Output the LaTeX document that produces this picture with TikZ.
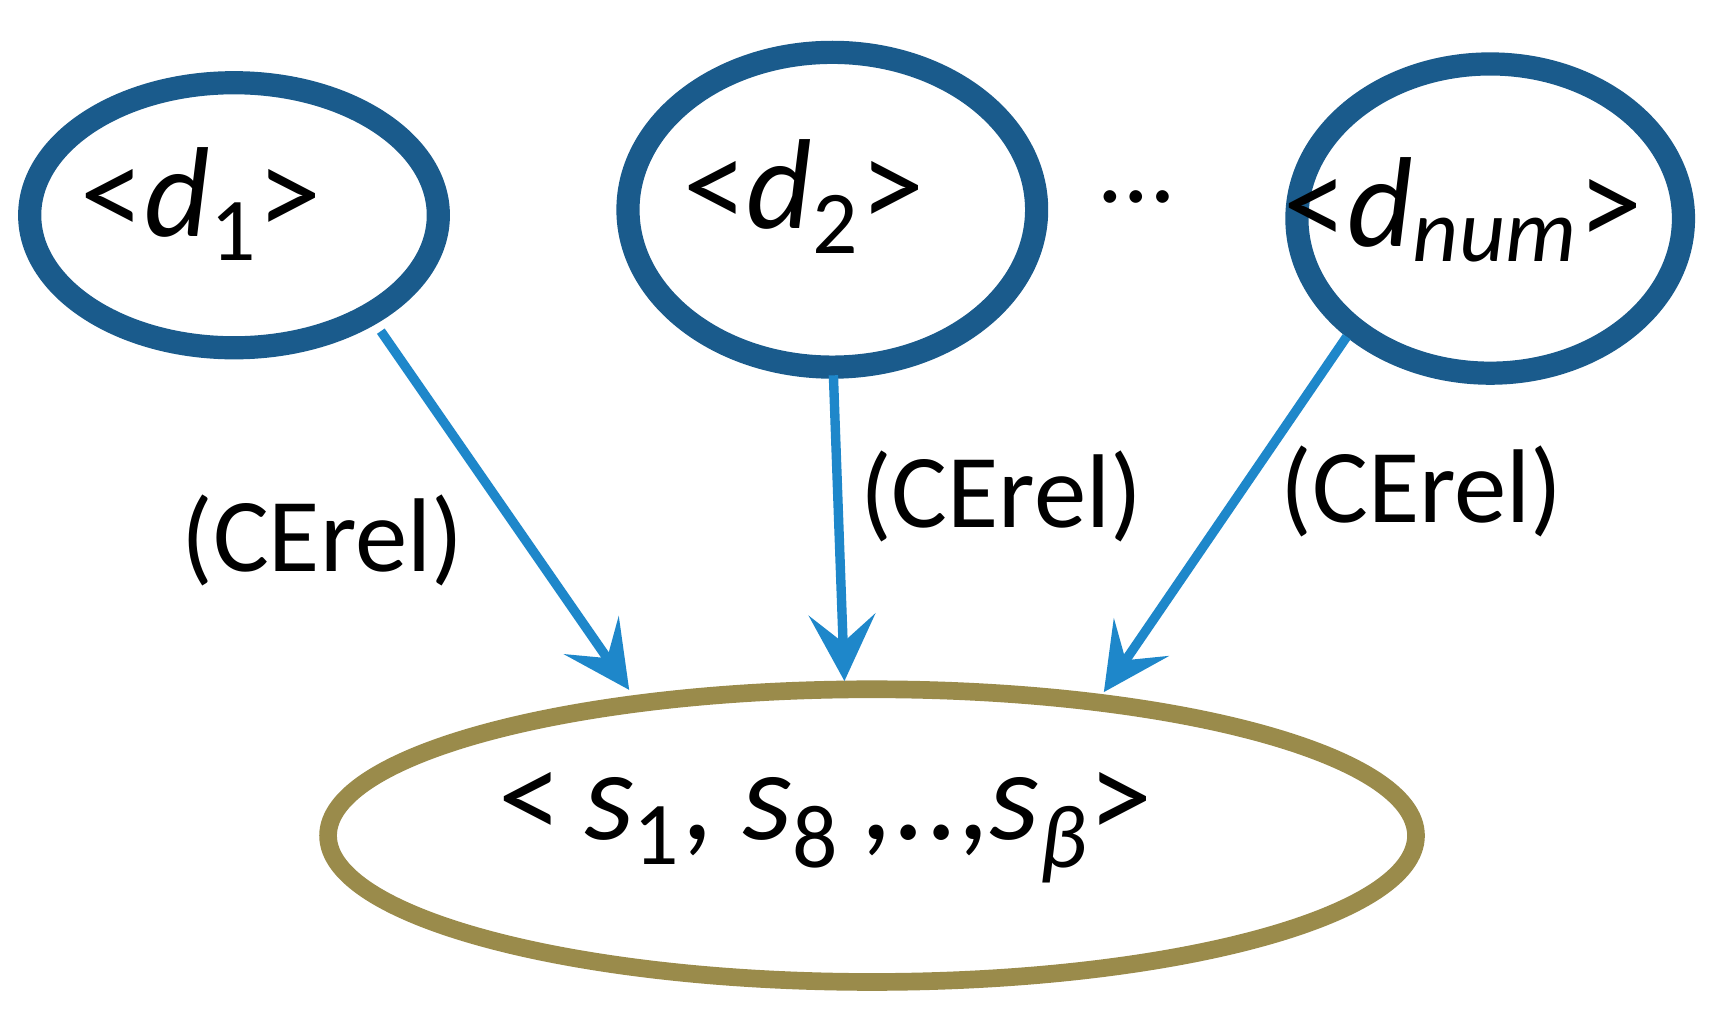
\documentclass[tikz,border=0pt]{standalone}
\usepackage{fontspec}
\setmainfont{Carlito}
\usetikzlibrary{shapes.geometric,arrows.meta}
\definecolor{dblue}{HTML}{1A5B8C}
\definecolor{lblue}{HTML}{1E87CA}
\definecolor{olive}{HTML}{9A8B4B}
\tikzset{
 dnode/.style={ellipse,draw=dblue,line width=2.1mm,inner sep=0pt},
 snode/.style={ellipse,draw=olive,line width=1.6mm,inner sep=0pt,minimum width=9.85cm,minimum height=2.65cm},
 rel/.style={draw=lblue,line width=0.85mm,-{Stealth[length=6mm,width=6mm,inset=2.5mm]}},
 lab/.style={font=\fontsize{27}{32}\selectfont},
 big/.style={font=\fontsize{33}{38}\selectfont},
}
\begin{document}
\begin{tikzpicture}[x=0.01cm,y=-0.01cm]
\useasboundingbox (0,0) rectangle (1560,927);
\node[dnode,minimum width=3.7cm,minimum height=2.4cm] (d1) at (212,195) {};
\node[big] (t1) at (182,185) {<\textit{d}\textsubscript{1}>};
\node[dnode,minimum width=3.7cm,minimum height=2.85cm] (d2) at (754,190) {};
\node[big] (t2) at (728,178) {<\textit{d}\textsubscript{2}>};
\node[dnode,minimum width=3.5cm,minimum height=2.8cm] (d3) at (1350,198) {};
\node[big] (t3) at (1325,190) {<\textit{d}\textsubscript{\textit{num}}>};
\node[lab] (dots) at (1030,178) {\dots};
\node[snode] (s) at (790,757) {};
\node[big] (st) at (748,750) {<\,\textit{s}\textsubscript{1}, \textit{s}\textsubscript{8}\,,..,\textit{s}\textsubscript{\textit{β}}>};
\coordinate (a1) at (345,300); \coordinate (b1) at (570,625);
\coordinate (a2) at (755,340); \coordinate (b2) at (765,617);
\coordinate (a3) at (1220,305); \coordinate (b3) at (1000,627);
\draw[rel] (a1) -- (b1);
\draw[rel] (a2) -- (b2);
\draw[rel] (a3) -- (b3);
\node[lab] (l1) at (292,490) {(CErel)};
\node[lab] (l2) at (907,450) {(CErel)};
\node[lab] (l3) at (1288,445) {(CErel)};
\end{tikzpicture}
\end{document}
